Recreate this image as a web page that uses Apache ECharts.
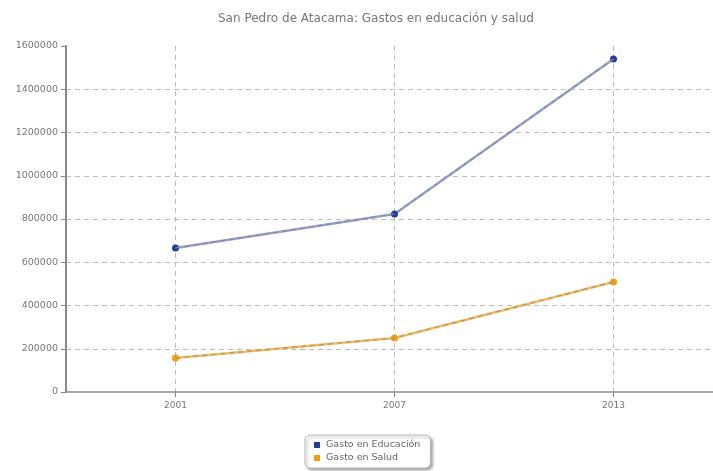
<!DOCTYPE html>
<html><head><meta charset="utf-8">
<script src="https://cdn.jsdelivr.net/npm/echarts@6/dist/echarts.min.js"></script>
<style>html,body{margin:0;padding:0;background:#fff}#c{width:713px;height:471px}</style>
</head><body><div id="c"></div>
<script>
const years = ['2001', '2007', '2013'];
const educacion = [666000, 823000, 1540000];
const salud = [157000, 250000, 509000];
const seriesNames = ['Gasto en Educación', 'Gasto en Salud'];
const yTicks = [0, 200000, 400000, 600000, 800000, 1000000, 1200000, 1400000, 1600000];

// category slots: padding slot before, between and after each year
const cats = ['', years[0], '', years[1], '', years[2], ''];
const toPairs = arr => arr.map((v, i) => [years[i], v]);
const isYear = (idx, val) => val !== '';

const chart = echarts.init(document.getElementById('c'));
chart.setOption({
  animation: false,
  title: {
    text: 'San Pedro de Atacama: Gastos en educación y salud',
    left: 213, top: 8,
    textStyle: { fontFamily: 'DejaVu Sans', fontSize: 12, fontWeight: 'normal', color: '#777' }
  },
  grid: { left: 66, width: 657, top: 46, height: 346, outerBoundsMode: 'none', containLabel: false },
  xAxis: {
    type: 'category', data: cats, boundaryGap: false,
    axisLine: { lineStyle: { color: '#8a8a8a', width: 1.5 } },
    axisTick: { interval: isYear, length: 5, lineStyle: { color: '#8a8a8a' } },
    axisLabel: { interval: 0, fontFamily: 'DejaVu Sans', fontSize: 9, color: '#777', margin: 9 },
    splitLine: { show: true, interval: isYear, lineStyle: { type: [5, 4], color: '#bdbdbd', width: 1 } }
  },
  yAxis: {
    type: 'value', min: yTicks[0], max: yTicks[yTicks.length - 1], interval: 200000,
    axisLine: { show: true, lineStyle: { color: '#8a8a8a', width: 2 } },
    axisTick: { show: true, length: 5, lineStyle: { color: '#8a8a8a' } },
    axisLabel: { fontFamily: 'DejaVu Sans', fontSize: 9.5, color: '#777', margin: 8, formatter: v => String(v) },
    splitLine: { show: true, showMaxLine: false, showMinLine: false, lineStyle: { type: [5, 4], color: '#bdbdbd', width: 1 } }
  },
  legend: {
    orient: 'vertical', left: 305, top: 435,
    data: seriesNames,
    icon: 'rect', itemWidth: 6, itemHeight: 6, itemGap: 3,
    padding: [5, 10, 5, 9],
    borderColor: '#bbb', borderWidth: 1, borderRadius: 5,
    shadowColor: 'rgba(0,0,0,0.35)', shadowBlur: 3, shadowOffsetX: 2, shadowOffsetY: 2,
    backgroundColor: '#fff',
    textStyle: { fontFamily: 'DejaVu Sans', fontSize: 9.5, color: '#666', padding: [0, 0, 0, 1] }
  },
  series: [
    { name: seriesNames[0], type: 'line', data: toPairs(educacion), color: '#1f3f99',
      lineStyle: { color: '#93a0cc', width: 2.5 }, symbol: 'circle', symbolSize: 7, z: 3 },
    { name: 'overlay1', type: 'line', data: toPairs(educacion), silent: true, symbol: 'none',
      lineStyle: { color: '#8c8c98', width: 1.2, type: [5, 4] }, z: 4 },
    { name: seriesNames[1], type: 'line', data: toPairs(salud), color: '#f39c12',
      lineStyle: { color: '#f7bb55', width: 2.5 }, symbol: 'circle', symbolSize: 7, z: 3 },
    { name: 'overlay2', type: 'line', data: toPairs(salud), silent: true, symbol: 'none',
      lineStyle: { color: '#a09888', width: 1.2, type: [5, 4] }, z: 4 }
  ]
});
</script></body></html>
